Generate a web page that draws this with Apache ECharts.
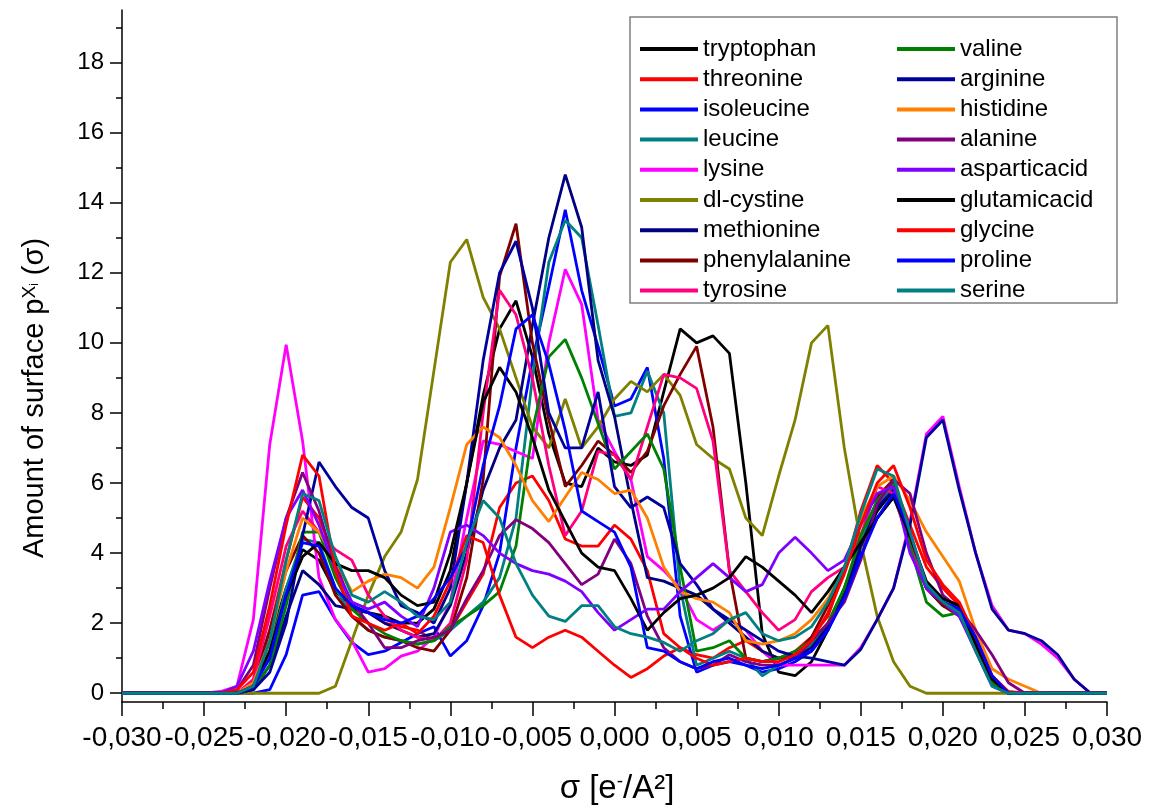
<!DOCTYPE html>
<html>
<head>
<meta charset="utf-8">
<title>Sigma profiles of amino acids</title>
<script src="https://cdn.jsdelivr.net/npm/echarts@6/dist/echarts.min.js"></script>
<style>
  html, body { margin: 0; padding: 0; background: #ffffff; }
  #chart { width: 1149px; height: 807px; }
</style>
</head>
<body>
<div id="chart"></div>
<script>
// sigma grid [e/A^2], -0.030 .. 0.030
const sigma = [
  -0.030, -0.029, -0.028, -0.027, -0.026, -0.025, -0.024, -0.023, -0.022, -0.021,
  -0.020, -0.019, -0.018, -0.017, -0.016, -0.015, -0.014, -0.013, -0.012, -0.011,
  -0.010, -0.009, -0.008, -0.007, -0.006, -0.005, -0.004, -0.003, -0.002, -0.001,
  0.000, 0.001, 0.002, 0.003, 0.004, 0.005, 0.006, 0.007, 0.008, 0.009,
  0.010, 0.011, 0.012, 0.013, 0.014, 0.015, 0.016, 0.017, 0.018, 0.019,
  0.020, 0.021, 0.022, 0.023, 0.024, 0.025, 0.026, 0.027, 0.028, 0.029,
  0.030
];

// tick labels
const xTicks = [-0.030, -0.025, -0.020, -0.015, -0.010, -0.005, 0.000, 0.005, 0.010, 0.015, 0.020, 0.025, 0.030];
const yMajor = [0, 2, 4, 6, 8, 10, 12, 14, 16, 18];
const yMinor = [1, 3, 5, 7, 9, 11, 13, 15, 17, 19];

// p(sigma) per amino acid, one value per sigma point
const tryptophan = [
  0, 0, 0, 0, 0, 0, 0, 0, 0.2, 1.5,
  3.0, 4.1, 3.8, 2.9, 2.5, 2.3, 2.2, 2.0, 2.0, 2.4,
  3.5, 6.0, 8.5, 10.4, 11.2, 9.6, 7.4, 6.0, 5.9, 7.0,
  6.6, 6.5, 6.8, 8.6, 10.4, 10.0, 10.2, 9.7, 6.0, 1.7,
  0.6, 0.5, 0.9, 1.8, 3.0, 4.2, 5.2, 5.8, 4.4, 3.0,
  2.5, 2.4, 1.5, 0.5, 0, 0, 0, 0, 0, 0,
  0
];
const threonine = [
  0, 0, 0, 0, 0, 0, 0, 0, 0.3, 1.8,
  3.8, 5.6, 5.0, 3.8, 2.4, 2.3, 2.0, 1.9, 1.8, 1.5,
  1.8, 2.6, 3.4, 5.3, 6.0, 6.2, 5.5, 4.4, 4.2, 4.2,
  4.8, 4.4, 3.5, 1.7, 1.3, 1.1, 1.0, 1.3, 1.5, 1.2,
  1.0, 1.2, 1.6, 2.2, 3.5, 5.2, 6.5, 6.0, 4.8, 3.6,
  3.0, 2.5, 1.4, 0.4, 0, 0, 0, 0, 0, 0,
  0
];
const isoleucine = [
  0, 0, 0, 0, 0, 0, 0, 0, 0, 0.1,
  1.1, 2.8, 2.9, 2.1, 1.45, 1.1, 1.2, 1.45, 1.7, 1.9,
  1.06, 1.5, 2.5, 4.0, 7.0, 9.5, 11.6, 13.8, 11.5, 9.9,
  8.2, 8.4, 9.3, 6.7, 2.2, 0.6, 0.8, 0.9, 0.8, 0.6,
  0.7, 0.9, 1.2, 1.8, 2.8, 4.0, 5.0, 5.6, 4.4, 3.0,
  2.5, 2.3, 1.5, 0.4, 0, 0, 0, 0, 0, 0,
  0
];
const leucine = [
  0, 0, 0, 0, 0, 0, 0, 0, 0.2, 1.2,
  3.0, 4.4, 4.3, 3.0, 2.2, 1.8, 1.6, 1.5, 1.4, 1.5,
  1.8, 2.2, 2.6, 3.3, 5.0, 9.0, 12.3, 13.5, 13.0, 10.5,
  7.9, 8.0, 9.2, 8.0, 3.0, 0.8, 1.0, 1.2, 1.0, 0.5,
  0.8, 1.0, 1.4, 2.0, 3.0, 4.3, 5.4, 5.9, 4.5, 3.0,
  2.6, 2.4, 1.4, 0.3, 0, 0, 0, 0, 0, 0,
  0
];
const lysine = [
  0, 0, 0, 0, 0, 0, 0.05, 0.2, 2.1, 7.1,
  9.95, 7.2, 3.3, 2.1, 1.5, 0.6, 0.7, 1.06, 1.2, 1.6,
  2.6, 5.0, 7.2, 7.1, 6.9, 6.7, 10.0, 12.1, 11.1, 7.8,
  6.9, 6.1, 3.9, 3.5, 3.0, 2.1, 1.8, 2.1, 1.8, 1.2,
  0.8, 0.8, 0.8, 0.8, 0.8, 1.3, 2.1, 3.0, 4.9, 7.4,
  7.9, 5.9, 4.0, 2.5, 1.8, 1.7, 1.4, 1.0, 0.4, 0,
  0
];
const dlCystine = [
  0, 0, 0, 0, 0, 0, 0, 0, 0, 0,
  0, 0, 0, 0.2, 1.5, 2.8, 3.9, 4.6, 6.1, 9.2,
  12.3, 12.95, 11.3, 10.4, 9.0, 7.6, 7.0, 8.4, 7.0, 7.6,
  8.4, 8.9, 8.6, 9.1, 8.5, 7.1, 6.7, 6.4, 5.0, 4.5,
  6.2, 7.8, 10.0, 10.5, 7.0, 4.3, 2.2, 0.9, 0.2, 0,
  0, 0, 0, 0, 0, 0, 0, 0, 0, 0,
  0
];
const methionine = [
  0, 0, 0, 0, 0, 0, 0, 0, 0.1, 0.8,
  2.2, 3.5, 3.1, 2.5, 2.4, 2.3, 2.0, 1.8, 1.6, 1.7,
  2.5, 4.0, 5.8, 7.0, 7.8, 10.5, 13.0, 14.8, 13.3, 9.5,
  7.9, 5.5, 3.3, 3.2, 3.0, 2.8, 2.4, 2.0, 1.6, 1.2,
  1.0, 1.0, 1.3, 1.9, 2.8, 4.2, 5.3, 5.8, 4.2, 3.0,
  2.6, 2.3, 1.3, 0.4, 0, 0, 0, 0, 0, 0,
  0
];
const phenylalanine = [
  0, 0, 0, 0, 0, 0, 0, 0, 0.3, 1.8,
  3.5, 4.5, 4.0, 2.8, 2.2, 1.8, 1.6, 1.5, 1.3, 1.2,
  1.8, 3.3, 6.1, 11.9, 13.4, 10.0, 7.8, 5.9, 6.5, 7.2,
  6.8, 6.3, 6.9, 8.2, 9.1, 9.9, 7.6, 3.5, 1.0, 0.9,
  1.0, 1.1, 1.6, 2.5, 3.5, 5.0, 5.6, 6.1, 4.5, 3.0,
  2.5, 2.2, 1.3, 0.3, 0, 0, 0, 0, 0, 0,
  0
];
const tyrosine = [
  0, 0, 0, 0, 0, 0, 0, 0, 0.4, 2.2,
  4.2, 5.2, 4.6, 4.1, 3.8, 2.8, 2.2, 1.8, 1.6, 1.5,
  2.0, 3.8, 8.0, 11.5, 10.8, 9.0, 6.5, 4.5, 5.2, 6.9,
  6.8, 6.1, 7.6, 9.1, 9.0, 8.7, 7.2, 3.5, 2.9, 2.3,
  1.8, 2.1, 2.9, 3.3, 3.6, 4.5, 5.9, 5.7, 4.2, 3.0,
  2.6, 2.3, 1.4, 0.4, 0, 0, 0, 0, 0, 0,
  0
];
const valine = [
  0, 0, 0, 0, 0, 0, 0, 0, 0.1, 0.8,
  2.5, 4.6, 4.6, 3.3, 2.4, 2.0, 1.7, 1.5, 1.4, 1.5,
  1.9, 2.2, 2.5, 2.9, 4.2, 7.5, 9.6, 10.1, 9.0, 7.7,
  6.4, 6.9, 7.4, 6.4, 3.6, 1.2, 1.3, 1.5, 1.0, 0.9,
  1.0, 1.2, 1.5, 2.0, 3.0, 4.5, 5.5, 6.0, 4.2, 2.6,
  2.2, 2.3, 1.4, 0.3, 0, 0, 0, 0, 0, 0,
  0
];
const arginine = [
  0, 0, 0, 0, 0, 0, 0, 0, 0.1, 0.6,
  2.0, 4.5, 6.6, 5.9, 5.3, 5.0, 3.5, 2.5, 2.3, 2.0,
  3.0, 6.0, 9.5, 12.0, 12.9, 11.0, 8.0, 7.0, 7.0, 8.6,
  5.9, 5.3, 5.6, 5.3, 3.7, 3.1, 2.4, 2.1, 1.8, 1.5,
  1.2, 1.06, 1.0, 0.9, 0.8, 1.25, 2.1, 3.0, 4.8, 7.3,
  7.8, 5.8, 4.0, 2.4, 1.8, 1.7, 1.5, 1.1, 0.4, 0,
  0
];
const histidine = [
  0, 0, 0, 0, 0, 0, 0, 0, 0.3, 1.5,
  3.5, 5.0, 4.6, 3.8, 2.9, 3.2, 3.4, 3.3, 3.0, 3.6,
  5.3, 7.1, 7.6, 7.3, 6.5, 5.5, 4.9, 5.6, 6.3, 6.1,
  5.7, 5.8, 5.0, 3.6, 2.9, 2.7, 2.6, 2.3, 1.5, 1.4,
  1.5, 1.7, 2.1, 2.7, 3.6, 5.0, 5.9, 6.2, 5.5, 4.6,
  3.9, 3.2, 1.8, 0.7, 0.4, 0.2, 0, 0, 0, 0,
  0
];
const alanine = [
  0, 0, 0, 0, 0, 0, 0, 0.1, 0.8, 3.0,
  5.0, 6.3, 5.2, 3.6, 2.6, 2.0, 1.3, 1.3, 1.5, 1.6,
  1.8, 2.7, 3.5, 4.5, 4.95, 4.7, 4.3, 3.7, 3.1, 3.4,
  4.4, 3.7, 2.2, 1.3, 0.9, 0.7, 0.8, 1.1, 0.9, 0.8,
  0.8, 1.0, 1.5, 2.0, 2.6, 3.8, 5.4, 6.1, 5.7, 4.0,
  2.8, 2.4, 1.8, 1.1, 0.3, 0, 0, 0, 0, 0,
  0
];
const asparticacid = [
  0, 0, 0, 0, 0, 0, 0, 0.2, 1.2, 3.2,
  5.0, 5.8, 4.8, 3.5, 2.6, 2.4, 2.6, 2.2, 1.9, 3.0,
  4.6, 4.8, 4.5, 4.0, 3.7, 3.5, 3.4, 3.2, 2.9, 2.3,
  1.8, 2.1, 2.4, 2.4, 2.9, 3.3, 3.7, 3.3, 2.9, 3.1,
  4.0, 4.45, 4.0, 3.5, 3.8, 4.8, 5.7, 5.9, 4.0, 3.0,
  2.6, 2.2, 1.2, 0.2, 0, 0, 0, 0, 0, 0,
  0
];
const glutamicacid = [
  0, 0, 0, 0, 0, 0, 0, 0, 0.2, 1.2,
  2.8, 3.9, 4.3, 3.7, 3.5, 3.5, 3.3, 2.8, 2.5, 2.6,
  4.0, 6.0, 8.3, 9.3, 8.6, 7.3, 5.8, 4.9, 4.0, 3.6,
  3.5, 2.7, 1.8, 2.3, 2.7, 2.8, 3.0, 3.3, 3.9, 3.6,
  3.2, 2.8, 2.3, 2.9, 3.6, 4.3, 5.0, 5.6, 4.5, 3.2,
  2.7, 2.5, 1.4, 0.4, 0, 0, 0, 0, 0, 0,
  0
];
const glycine = [
  0, 0, 0, 0, 0, 0, 0, 0.1, 0.6, 2.5,
  4.8, 6.8, 6.2, 3.5, 2.2, 2.0, 1.8, 2.0, 1.7, 2.2,
  3.2, 4.5, 4.3, 2.8, 1.6, 1.3, 1.6, 1.8, 1.6, 1.2,
  0.8, 0.45, 0.7, 1.06, 1.3, 1.0, 0.8, 0.9, 1.0, 0.9,
  0.9, 1.1, 1.5, 2.3, 3.4, 4.8, 6.0, 6.5, 5.3, 3.8,
  3.1, 2.6, 1.6, 0.5, 0.05, 0, 0, 0, 0, 0,
  0
];
const proline = [
  0, 0, 0, 0, 0, 0, 0, 0, 0.2, 1.0,
  2.8, 4.3, 4.2, 3.0, 2.5, 2.3, 2.1, 2.0, 2.2, 2.7,
  3.3, 4.2, 6.5, 8.2, 10.4, 10.8, 9.4, 7.5, 5.2, 4.9,
  4.6, 3.6, 1.3, 1.2, 0.9, 0.7, 0.9, 1.0, 0.8, 0.7,
  0.8, 1.0, 1.2, 1.8, 2.7, 3.9, 5.0, 5.7, 4.6, 3.1,
  2.6, 2.4, 1.6, 0.5, 0, 0, 0, 0, 0, 0,
  0
];
const serine = [
  0, 0, 0, 0, 0, 0, 0, 0, 0.2, 1.5,
  3.8, 5.7, 5.5, 3.9, 2.8, 2.6, 2.9, 2.6, 2.2, 2.1,
  2.6, 4.3, 5.5, 5.0, 3.7, 2.8, 2.2, 2.05, 2.5, 2.5,
  1.9, 1.7, 1.6, 1.45, 1.2, 1.5, 1.7, 2.1, 2.3, 1.7,
  1.5, 1.6, 1.9, 2.6, 3.6, 5.1, 6.4, 6.2, 4.6, 3.1,
  2.6, 2.3, 1.2, 0.2, 0, 0, 0, 0, 0, 0,
  0
];

// legend order: first column, then second column
const namesLeft = ['tryptophan', 'threonine', 'isoleucine', 'leucine', 'lysine',
  'dl-cystine', 'methionine', 'phenylalanine', 'tyrosine'];
const namesRight = ['valine', 'arginine', 'histidine', 'alanine', 'asparticacid',
  'glutamicacid', 'glycine', 'proline', 'serine'];

const curves = [
  { name: 'tryptophan', color: '#000000', values: tryptophan },
  { name: 'threonine', color: '#ff0000', values: threonine },
  { name: 'isoleucine', color: '#0000ff', values: isoleucine },
  { name: 'leucine', color: '#008080', values: leucine },
  { name: 'lysine', color: '#ff00ff', values: lysine },
  { name: 'dl-cystine', color: '#808000', values: dlCystine },
  { name: 'methionine', color: '#000080', values: methionine },
  { name: 'phenylalanine', color: '#800000', values: phenylalanine },
  { name: 'tyrosine', color: '#ff0080', values: tyrosine },
  { name: 'valine', color: '#008000', values: valine },
  { name: 'arginine', color: '#00009c', values: arginine },
  { name: 'histidine', color: '#ff8000', values: histidine },
  { name: 'alanine', color: '#800080', values: alanine },
  { name: 'asparticacid', color: '#8000ff', values: asparticacid },
  { name: 'glutamicacid', color: '#000000', values: glutamicacid },
  { name: 'glycine', color: '#ff0000', values: glycine },
  { name: 'proline', color: '#0000ff', values: proline },
  { name: 'serine', color: '#008080', values: serine }
];

const FONT = "'Liberation Sans', Arial, sans-serif";

function fmtSigma(v) {
  if (Math.abs(v) < 1e-9) return '0,000';
  return v.toFixed(3).replace('.', ',');
}

const chart = echarts.init(document.getElementById('chart'), null, { renderer: 'canvas' });

const legendCommon = {
  orient: 'vertical',
  top: 37,
  itemWidth: 58,
  itemHeight: 4,
  itemGap: 6.2,
  icon: 'rect',
  padding: 0,
  selectedMode: false,
  textStyle: { fontFamily: FONT, fontSize: 24, color: '#000' }
};

const option = {
  animation: false,
  backgroundColor: '#ffffff',
  textStyle: { fontFamily: FONT },
  grid: { left: 122, right: 42, top: 10, bottom: 105, containLabel: false },
  legend: [
    Object.assign({ left: 640, data: namesLeft }, legendCommon),
    Object.assign({ left: 897, data: namesRight }, legendCommon)
  ],
  graphic: [
    {
      type: 'rect', z: 3,
      shape: { x: 630, y: 17, width: 487, height: 286 },
      style: { fill: '#ffffff', stroke: '#7f7f7f', lineWidth: 1.5 }
    },
    {
      type: 'text', z: 5,
      x: 35, y: 398, rotation: Math.PI / 2,
      style: {
        text: '{a|Amount of surface p}{sup|X}{sub|i}{a| (σ)}',
        align: 'center', verticalAlign: 'middle', fill: '#000',
        rich: {
          a: { fontFamily: FONT, fontSize: 29, color: '#000' },
          sup: { fontFamily: FONT, fontSize: 19, color: '#000', verticalAlign: 'top' },
          sub: { fontFamily: FONT, fontSize: 12, color: '#000', verticalAlign: 'middle' }
        }
      }
    },
    {
      type: 'text', z: 5,
      x: 617, y: 789,
      style: {
        text: '{a|σ [e}{sup|-}{a|/A²]}',
        align: 'center', verticalAlign: 'middle', fill: '#000',
        rich: {
          a: { fontFamily: FONT, fontSize: 33, color: '#000' },
          sup: { fontFamily: FONT, fontSize: 19, color: '#000', verticalAlign: 'top' }
        }
      }
    }
  ],
  xAxis: {
    type: 'value',
    min: xTicks[0],
    max: xTicks[xTicks.length - 1],
    interval: 0.005,
    axisLine: { show: true, onZero: false, lineStyle: { color: '#000', width: 1.5 } },
    axisTick: { show: true, length: 14, lineStyle: { color: '#000', width: 1.5 } },
    minorTick: { show: true, splitNumber: 2, length: 7, lineStyle: { color: '#000', width: 1.5 } },
    axisLabel: {
      fontFamily: FONT, fontSize: 28, color: '#000', margin: 22,
      formatter: fmtSigma
    },
    splitLine: { show: false },
    minorSplitLine: { show: false }
  },
  yAxis: [
    {
      type: 'value',
      min: -0.25,
      max: 19.5,
      axisLine: { show: true, onZero: false, lineStyle: { color: '#000', width: 1.5 } },
      axisTick: { show: true, length: 12, customValues: yMajor, lineStyle: { color: '#000', width: 1.5 } },
      axisLabel: { customValues: yMajor, fontFamily: FONT, fontSize: 24, color: '#000', margin: 18 },
      splitLine: { show: false }
    },
    {
      type: 'value',
      min: -0.25,
      max: 19.5,
      position: 'left',
      axisLine: { show: false, onZero: false },
      axisTick: { show: true, length: 6, customValues: yMinor, lineStyle: { color: '#000', width: 1.5 } },
      axisLabel: { show: false },
      splitLine: { show: false }
    }
  ],
  series: curves.map(c => ({
    name: c.name,
    type: 'line',
    yAxisIndex: 0,
    symbol: 'none',
    color: c.color,
    lineStyle: { color: c.color, width: 2.8 },
    emphasis: { disabled: true },
    data: sigma.map((s, i) => [s, c.values[i]])
  }))
};

chart.setOption(option);
</script>
</body>
</html>
